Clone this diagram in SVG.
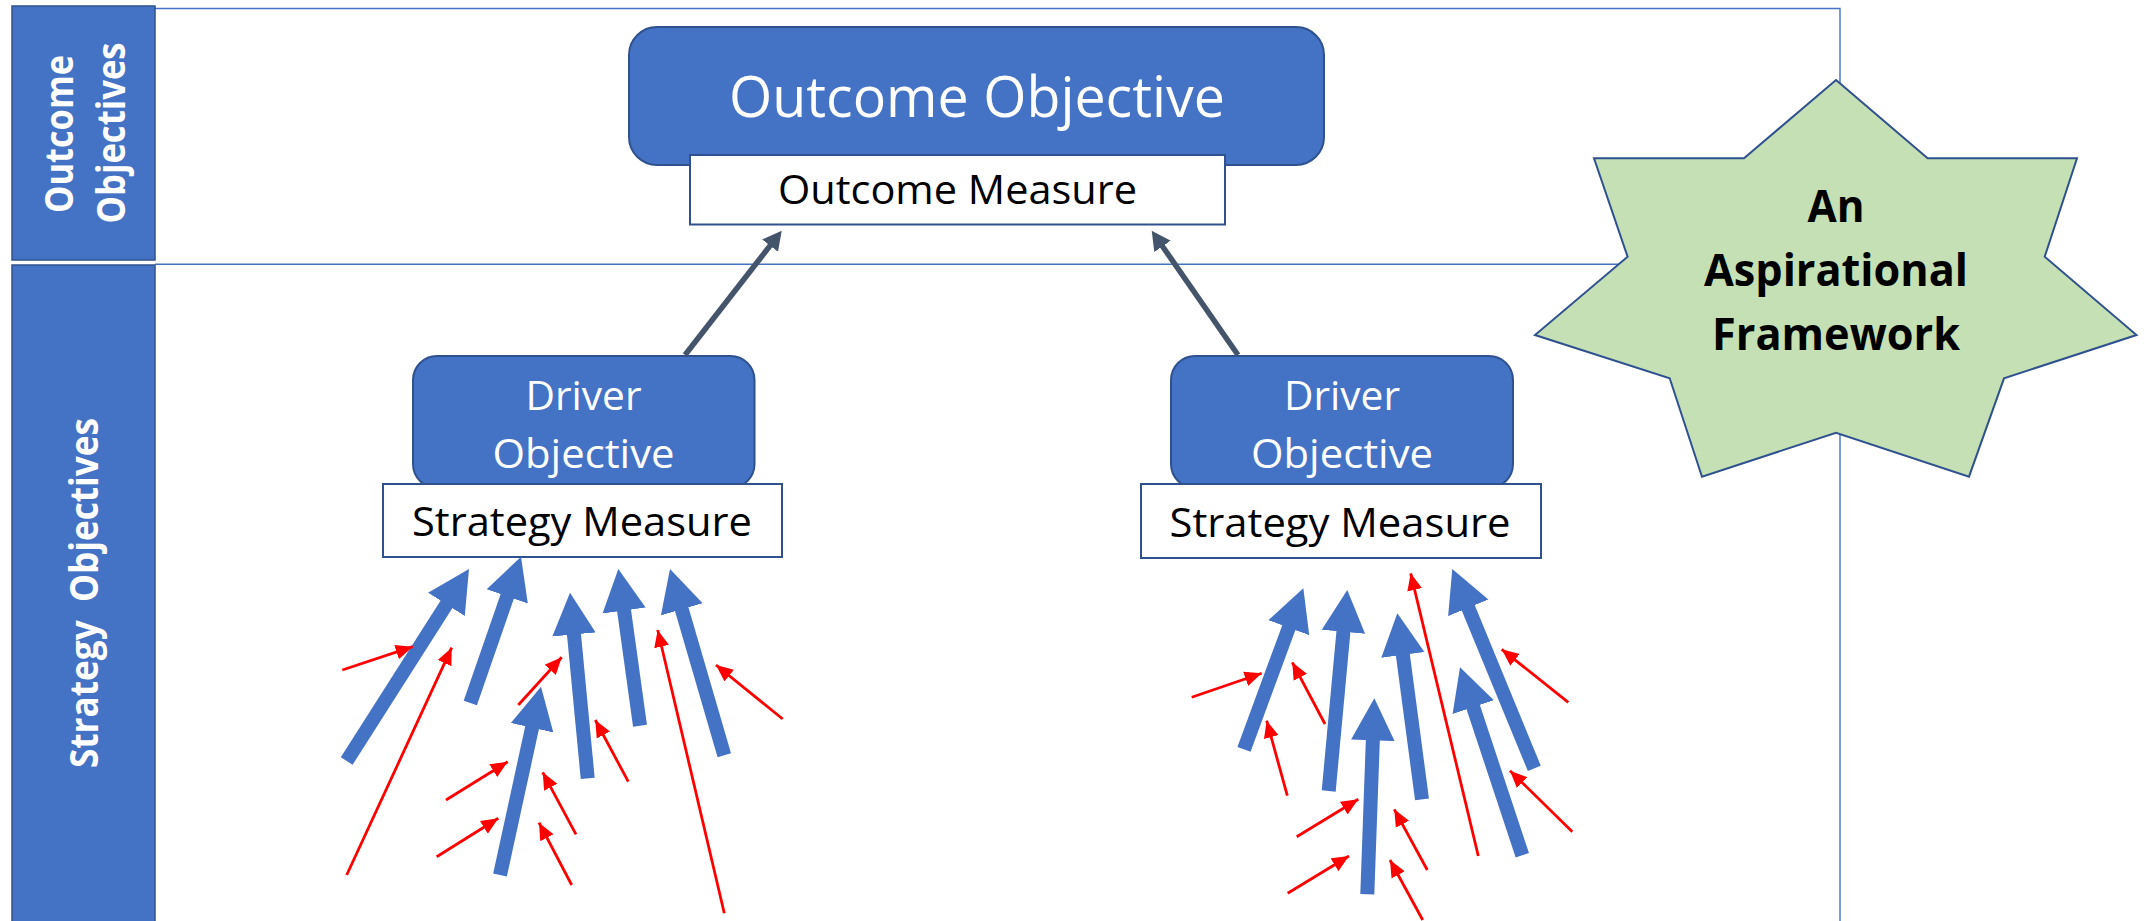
<svg xmlns="http://www.w3.org/2000/svg" width="2146" height="921" viewBox="0 0 2146 921">
<style>
.frame{fill:none;stroke:#4472C4;stroke-width:1.4}
.bar{fill:#4472C4;stroke:#2F528F;stroke-width:1.5}
.obj{fill:#4472C4;stroke:#2F528F;stroke-width:2}
.meas{fill:#FFFFFF;stroke:#2F528F;stroke-width:2}
.bartxt{font-family:"Open Sans","Noto Sans","Liberation Sans",sans-serif;font-weight:bold;fill:#FFFFFF;font-size:39px;text-anchor:middle}
.wt{font-family:"Open Sans","Noto Sans","Liberation Sans",sans-serif;fill:#FFFFFF;text-anchor:middle}
.bt{font-family:"Open Sans","Noto Sans","Liberation Sans",sans-serif;fill:#000000;text-anchor:middle}
.star{fill:#C5E0B4;stroke:#2F528F;stroke-width:2}
.startxt{font-family:"Open Sans","Noto Sans","Liberation Sans",sans-serif;font-weight:bold;fill:#000000;font-size:45px;text-anchor:middle}
.gray{stroke:#44546A;stroke-width:5.5;fill:none}
.blue{stroke:#4472C4;stroke-width:14;fill:none;stroke-linecap:butt}
.red{stroke:#FF0000;stroke-width:2.8;fill:none}
</style>
<defs>
<marker id="gh" markerUnits="userSpaceOnUse" viewBox="0 -11 21 22" markerWidth="21" markerHeight="22" refX="2" refY="0" orient="auto"><path d="M0,-10 L19,0 L0,10 z" fill="#44546A"/></marker>
<marker id="bh" markerUnits="userSpaceOnUse" viewBox="0 -23 44 46" markerWidth="44" markerHeight="46" refX="2" refY="0" orient="auto"><path d="M0,-21.75 L42,0 L0,21.75 z" fill="#4472C4"/></marker>
<marker id="rh" markerUnits="userSpaceOnUse" viewBox="0 -8 18 16" markerWidth="18" markerHeight="16" refX="17" refY="0" orient="auto"><path d="M0,-7.5 L17,0 L0,7.5 z" fill="#FF0000"/></marker>
</defs>
<rect width="2146" height="921" fill="#FFFFFF"/>
<g id="frame">
<polyline class="frame" points="155,8.5 1840,8.5 1840,921"/>
<line class="frame" x1="155" y1="264.3" x2="1840" y2="264.3"/>
</g>
<g id="outcome-objectives-lane">
<rect class="bar" x="12" y="6" width="143" height="254"/>
<text class="bartxt" transform="translate(73,134) rotate(-90)" textLength="158" lengthAdjust="spacingAndGlyphs">Outcome</text>
<text class="bartxt" transform="translate(125,133) rotate(-90)" textLength="181" lengthAdjust="spacingAndGlyphs">Objectives</text>
</g>
<g id="strategy-objectives-lane">
<rect class="bar" x="12" y="265" width="143" height="670"/>
<text class="bartxt" xml:space="preserve" transform="translate(98,593) rotate(-90)" textLength="350" lengthAdjust="spacingAndGlyphs">Strategy  Objectives</text>
</g>
<g id="outcome-objective">
<rect class="obj" x="629" y="27" width="695" height="138" rx="28"/>
<text class="wt" x="977" y="117" font-size="56" textLength="496" lengthAdjust="spacingAndGlyphs">Outcome Objective</text>
</g>
<g id="outcome-measure">
<rect class="meas" x="690" y="155" width="535" height="69.5"/>
<text class="bt" x="957.5" y="204" font-size="40" textLength="359" lengthAdjust="spacingAndGlyphs">Outcome Measure</text>
</g>
<g id="driver-objective-1">
<rect class="obj" x="413" y="356" width="341.5" height="132" rx="24"/>
<text class="wt" x="583.5" y="410" font-size="40" textLength="116" lengthAdjust="spacingAndGlyphs">Driver</text>
<text class="wt" x="583.5" y="468" font-size="40" textLength="182" lengthAdjust="spacingAndGlyphs">Objective</text>
</g>
<g id="strategy-measure-1">
<rect class="meas" x="383" y="484" width="399" height="73"/>
<text class="bt" x="582" y="536" font-size="40" textLength="340" lengthAdjust="spacingAndGlyphs">Strategy Measure</text>
</g>
<g id="driver-objective-2">
<rect class="obj" x="1171" y="356" width="342" height="132" rx="24"/>
<text class="wt" x="1342" y="410" font-size="40" textLength="116" lengthAdjust="spacingAndGlyphs">Driver</text>
<text class="wt" x="1342" y="468" font-size="40" textLength="182" lengthAdjust="spacingAndGlyphs">Objective</text>
</g>
<g id="strategy-measure-2">
<rect class="meas" x="1141" y="484" width="400" height="74"/>
<text class="bt" x="1340" y="536.5" font-size="40" textLength="341" lengthAdjust="spacingAndGlyphs">Strategy Measure</text>
</g>
<g id="connectors">
<line class="gray" x1="685" y1="355" x2="771.3" y2="244.1" marker-end="url(#gh)"/>
<line class="gray" x1="1238" y1="355" x2="1161.4" y2="244.7" marker-end="url(#gh)"/>
<g id="blue-arrows">
<line class="blue" x1="346.7" y1="761" x2="447.5" y2="602.7" marker-end="url(#bh)"/>
<line class="blue" x1="470.3" y1="703" x2="507.9" y2="594.5" marker-end="url(#bh)"/>
<line class="blue" x1="500" y1="875" x2="532.5" y2="725.8" marker-end="url(#bh)"/>
<line class="blue" x1="587.7" y1="778.3" x2="573.8" y2="632.5" marker-end="url(#bh)"/>
<line class="blue" x1="640" y1="725.7" x2="623.8" y2="608.6" marker-end="url(#bh)"/>
<line class="blue" x1="724.3" y1="755.3" x2="681.2" y2="607.4" marker-end="url(#bh)"/>
<line class="blue" x1="1244" y1="749.3" x2="1289.5" y2="625.8" marker-end="url(#bh)"/>
<line class="blue" x1="1328.7" y1="791" x2="1343.6" y2="629.8" marker-end="url(#bh)"/>
<line class="blue" x1="1367.3" y1="894.3" x2="1372.9" y2="738.3" marker-end="url(#bh)"/>
<line class="blue" x1="1422" y1="799.3" x2="1402.6" y2="653" marker-end="url(#bh)"/>
<line class="blue" x1="1534.3" y1="768.3" x2="1467.5" y2="606" marker-end="url(#bh)"/>
<line class="blue" x1="1522.3" y1="855.3" x2="1472.6" y2="705.3" marker-end="url(#bh)"/>
</g>
<g id="red-arrows">
<line class="red" x1="342.3" y1="670" x2="412.7" y2="646.7" marker-end="url(#rh)"/>
<line class="red" x1="346.7" y1="875" x2="451.7" y2="647.7" marker-end="url(#rh)"/>
<line class="red" x1="518.3" y1="705" x2="561.7" y2="657.3" marker-end="url(#rh)"/>
<line class="red" x1="446" y1="800" x2="507.7" y2="761.7" marker-end="url(#rh)"/>
<line class="red" x1="436.7" y1="856.7" x2="498.3" y2="818.3" marker-end="url(#rh)"/>
<line class="red" x1="576" y1="834.3" x2="542.7" y2="772.3" marker-end="url(#rh)"/>
<line class="red" x1="571.7" y1="885" x2="539" y2="822.7" marker-end="url(#rh)"/>
<line class="red" x1="628.3" y1="781.7" x2="595.3" y2="720" marker-end="url(#rh)"/>
<line class="red" x1="724.3" y1="913.3" x2="657.7" y2="630" marker-end="url(#rh)"/>
<line class="red" x1="782.7" y1="719" x2="716" y2="665" marker-end="url(#rh)"/>
<line class="red" x1="1191.7" y1="697.3" x2="1261.7" y2="673.3" marker-end="url(#rh)"/>
<line class="red" x1="1287.3" y1="795.7" x2="1266.7" y2="720.7" marker-end="url(#rh)"/>
<line class="red" x1="1325" y1="724" x2="1292.3" y2="662.3" marker-end="url(#rh)"/>
<line class="red" x1="1296.7" y1="836.7" x2="1358.3" y2="799.3" marker-end="url(#rh)"/>
<line class="red" x1="1287.7" y1="893.3" x2="1349" y2="856" marker-end="url(#rh)"/>
<line class="red" x1="1427.3" y1="870" x2="1394.3" y2="809.3" marker-end="url(#rh)"/>
<line class="red" x1="1422.7" y1="920" x2="1390" y2="860" marker-end="url(#rh)"/>
<line class="red" x1="1478.3" y1="856" x2="1410.7" y2="573.3" marker-end="url(#rh)"/>
<line class="red" x1="1568.3" y1="702.3" x2="1501.7" y2="649.3" marker-end="url(#rh)"/>
<line class="red" x1="1572.3" y1="831.7" x2="1510" y2="770.7" marker-end="url(#rh)"/>
</g>
</g>
<g id="aspirational-star">
<polygon class="star" points="1836,80 1927.6,158.3 2077,158.3 2044.7,256.7 2136.5,335 2004,378.3 1969,476.7 1836,432.7 1702,476.7 1669.7,378.3 1535,335 1627.6,256.7 1594,158.3 1744,158.3"/>
<text class="startxt" x="1836" y="221.7" textLength="57" lengthAdjust="spacingAndGlyphs">An</text>
<text class="startxt" x="1836" y="286" textLength="264" lengthAdjust="spacingAndGlyphs">Aspirational</text>
<text class="startxt" x="1836" y="350" textLength="248" lengthAdjust="spacingAndGlyphs">Framework</text>
</g>
</svg>
